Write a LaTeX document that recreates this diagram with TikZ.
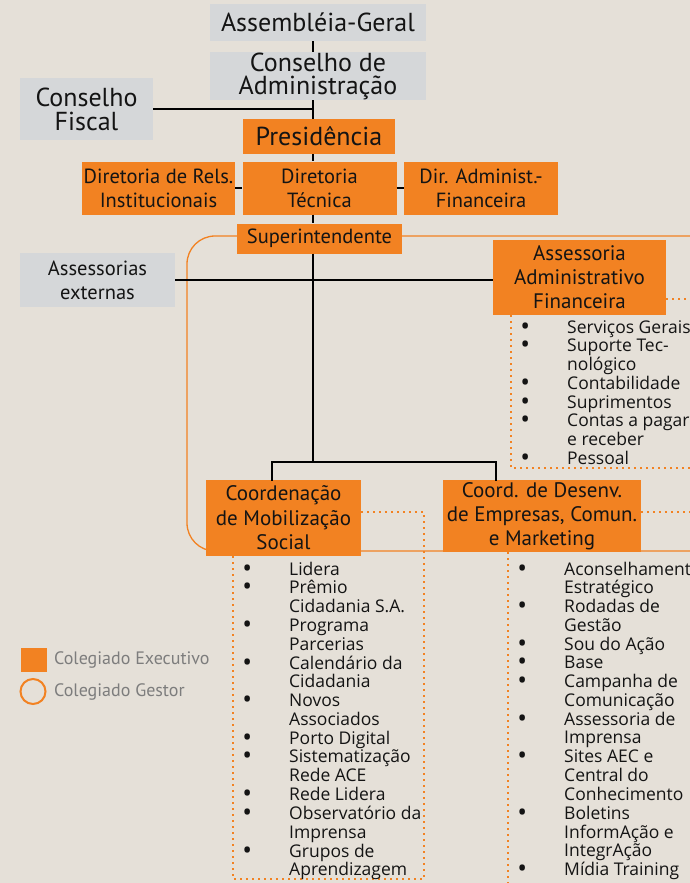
\documentclass[tikz,border=0pt]{standalone}
\usepackage{fontspec}
\usepackage{array}
\newfontfamily\boxfont{PT Sans}
\newfontfamily\listfont{Open Sans}
\definecolor{paper}{RGB}{229,224,216}
\definecolor{aecorange}{RGB}{242,130,34}
\definecolor{boxgray}{RGB}{213,215,217}
\definecolor{legendgray}{RGB}{125,125,125}
\definecolor{ink}{RGB}{20,20,20}

% one bulleted list: bullet centred on the left edge, text further right
\newcommand{\itm}[1]{\makebox[0pt][c]{\raisebox{-2pt}{\fontsize{26}{0}\selectfont\textbullet}}\hspace{#1}}
\newcommand{\bulletlist}[1]{%
  {\listfont\fontsize{17.5}{18.6}\selectfont
   \begin{tabular}[t]{@{}l@{}}#1\end{tabular}}}

\tikzset{
  box/.style 2 args={rectangle, inner sep=0pt, align=center, text=ink,
    font=\boxfont\fontsize{#1}{#2}\selectfont},
  graybox/.style 2 args={box={#1}{#2}, fill=boxgray},
  orangebox/.style 2 args={box={#1}{#2}, fill=aecorange},
  link/.style={draw=black, line width=2.6pt},
  dots/.style={draw=aecorange, line width=2pt, dash pattern=on 1.8pt off 4.2pt},
  listnode/.style={inner sep=0pt, anchor=base west, text=ink},
  legendtext/.style={anchor=west, inner sep=0pt, text=legendgray,
    font=\boxfont\fontsize{18}{20}\selectfont}
}

\begin{document}
\begin{tikzpicture}[x=1pt, y=-1pt]
  \useasboundingbox (0,0) rectangle (690,883);
  \clip (0,0) rectangle (690,883);
  \fill[paper] (0,0) rectangle (690,883);

  % Colegiado Gestor outline
  \draw[aecorange, line width=1.3pt, rounded corners=28pt]
    (187,236) rectangle (740,551);

  % upper governance
  \node[graybox={26}{24}, minimum width=216pt, minimum height=37pt] (ag) at (318,22.5) {Assembléia-Geral};
  \node[graybox={26}{23}, minimum width=216pt, minimum height=48pt] (ca) at (318,76) {Conselho de\\Administração};
  \node[graybox={26}{24}, minimum width=133pt, minimum height=62pt] (cf) at (86.5,109) {Conselho\\Fiscal};
  \node[orangebox={26}{28}, minimum width=152pt, minimum height=35pt] (pres) at (319,136.5) {Presidência};

  % board of directors
  \node[orangebox={20.5}{24}, minimum width=153pt, minimum height=53pt] (dr) at (158.5,188) {Diretoria de Rels.\\Institucionais};
  \node[orangebox={20.5}{24}, minimum width=154pt, minimum height=53pt] (dt) at (319.5,188) {Diretoria\\Técnica};
  \node[orangebox={20.5}{24}, minimum width=154pt, minimum height=53pt] (da) at (481,188) {Dir. Administ.-\\Financeira};

  \node[orangebox={20.5}{22}, minimum width=165pt, minimum height=30pt] (sup) at (319.5,238.5) {Superintendente};

  \node[graybox={20.5}{24}, minimum width=155pt, minimum height=54pt] (ae) at (97.5,280) {Assessorias\\externas};
  \node[orangebox={21}{24}, minimum width=173pt, minimum height=75pt] (aaf) at (579.5,277.5) {Assessoria\\Administrativo\\Financeira};

  \node[orangebox={21}{24.5}, minimum width=155pt, minimum height=76pt] (cms) at (283.5,518) {Coordenação\\de Mobilização\\Social};
  \node[orangebox={21}{24}, minimum width=198pt, minimum height=72pt] (cde) at (542,516) {Coord. de Desenv.\\de Empresas, Comun.\\e Marketing};

  % spine and links
  \coordinate (sp) at (313,0);
  \coordinate (jl) at (272,462);
  \coordinate (jr) at (496,462);
  \draw[link] (ag.south -| sp) -- (ca.north -| sp);
  \draw[link] (ca.south -| sp) -- (pres.north -| sp);
  \draw[link] (cf.east) -- (cf.east -| sp);
  \draw[link] (pres.south -| sp) -- (dt.north -| sp);
  \draw[link] (dr.east) -- (dt.west);
  \draw[link] (dt.east) -- (da.west);
  \draw[link] (dt.south -| sp) -- (sup.north -| sp);
  \draw[link] (sup.south -| sp) -- (jl -| sp);
  \draw[link] (ae.east) -- (ae.east -| aaf.west);
  \draw[link, line cap=rect] (jl |- cms.north) -- (jl) -- (jr) -- (jr |- cde.north);

  % dotted frames of the task lists
  \coordinate (fa) at (511,468);
  \coordinate (fb) at (424,879);
  \coordinate (fc) at (233,879);
  \coordinate (fd) at (508,883);
  \draw[dots] (aaf.east |- 0,299) -- (700,299);
  \draw[dots] (aaf.south -| fa) -- (fa) -- (700,468);
  \draw[dots] (cms.east |- 0,512) -- (fb |- 0,512) -- (fb) -- (fc) -- (cms.south -| fc);
  \draw[dots] (cde.east |- 0,512) -- (700,512);
  \draw[dots] (cde.south -| fd) -- (fd);

  % task lists
  \node[listnode] (laaf) at (525,333) {\bulletlist{%
    \itm{42pt}Serviços Gerais\\
    \itm{42pt}Suporte Tec-\\
    \hspace{42pt}nológico\\
    \itm{42pt}Contabilidade\\
    \itm{42pt}Suprimentos\\
    \itm{42pt}Contas a pagar\\
    \hspace{42pt}e receber\\
    \itm{42pt}Pessoal}};

  \node[listnode] (lcms) at (247,575) {\bulletlist{%
    \itm{42pt}Lidera\\
    \itm{42pt}Prêmio\\
    \hspace{42pt}Cidadania S.A.\\
    \itm{42pt}Programa\\
    \hspace{42pt}Parcerias\\
    \itm{42pt}Calendário da\\
    \hspace{42pt}Cidadania\\
    \itm{42pt}Novos\\
    \hspace{42pt}Associados\\
    \itm{42pt}Porto Digital\\
    \itm{42pt}Sistematização\\
    \hspace{42pt}Rede ACE\\
    \itm{42pt}Rede Lidera\\
    \itm{42pt}Observatório da\\
    \hspace{42pt}Imprensa\\
    \itm{42pt}Grupos de\\
    \hspace{42pt}Aprendizagem}};

  \node[listnode] (lcde) at (522,575) {\bulletlist{%
    \itm{42pt}Aconselhamento\\
    \hspace{42pt}Estratégico\\
    \itm{42pt}Rodadas de\\
    \hspace{42pt}Gestão\\
    \itm{42pt}Sou do Ação\\
    \itm{42pt}Base\\
    \itm{42pt}Campanha de\\
    \hspace{42pt}Comunicação\\
    \itm{42pt}Assessoria de\\
    \hspace{42pt}Imprensa\\
    \itm{42pt}Sites AEC e\\
    \hspace{42pt}Central do\\
    \hspace{42pt}Conhecimento\\
    \itm{42pt}Boletins\\
    \hspace{42pt}InformAção e\\
    \hspace{42pt}IntegrAção\\
    \itm{42pt}Mídia Training}};

  % legend
  \node[fill=aecorange, minimum width=26pt, minimum height=24pt, inner sep=0pt] (kexec) at (33.5,660) {};
  \node[legendtext] (texec) at (54,660) {Colegiado Executivo};
  \node[circle, draw=aecorange, line width=2pt, minimum size=25pt, inner sep=0pt] (kgest) at (33,691.5) {};
  \node[legendtext] (tgest) at (54,691.5) {Colegiado Gestor};
\end{tikzpicture}
\end{document}
